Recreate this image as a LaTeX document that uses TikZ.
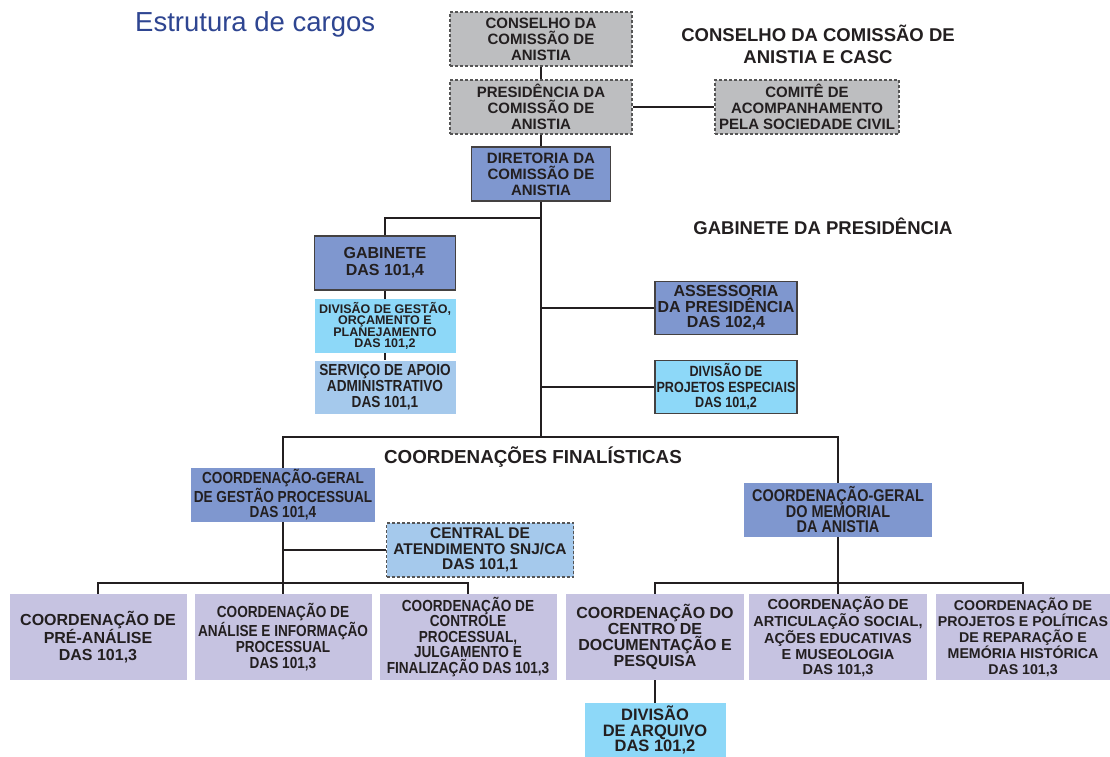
\documentclass[tikz,border=0pt]{standalone}
\usepackage{fontspec}
\setmainfont{Liberation Sans}
\newfontfamily\condfam[FakeStretch=0.85]{Liberation Sans}
\newcommand\fz[2]{\fontsize{#1}{#2}\selectfont\bfseries}
\newcommand\fzc[2]{\condfam\fontsize{#1}{#2}\selectfont\bfseries}
\definecolor{txt}{HTML}{231F20}
\definecolor{grayfill}{HTML}{BDBEC0}
\definecolor{bluefill}{HTML}{7F97CF}
\definecolor{cyanfill}{HTML}{8DD8F8}
\definecolor{lbfill}{HTML}{A5C9EC}
\definecolor{lavfill}{HTML}{C6C3E1}
\definecolor{titleblue}{HTML}{2E4591}
\definecolor{dashcol}{HTML}{555555}
\tikzset{
  bx/.style={inner sep=0pt, align=center, text=txt},
  dashbox/.style={draw=dashcol, line width=1.1pt, dash pattern=on 3pt off 2pt},
  solidbox/.style={draw=txt!85, line width=1.2pt},
  conn/.style={draw=txt, line width=2pt},
  lbl/.style={inner sep=0pt, align=center, text=txt}
}
\begin{document}
\begin{tikzpicture}[x=1pt,y=-1pt]
\fill[white] (0,0) rectangle (1110,756);
\useasboundingbox (0,0) rectangle (1110,756);

% title
\node[anchor=base west, inner sep=0pt, text=titleblue, font=\fontsize{27.5}{30}\selectfont] (title) at (135,31) {Estrutura de cargos};

% top boxes
\node[bx, fill=grayfill, dashbox, minimum width=182, minimum height=54, font=\fz{15}{16}] (cons) at (541,39) {CONSELHO DA\\COMISSÃO DE\\ANISTIA};
\node[bx, fill=grayfill, dashbox, minimum width=182, minimum height=54, font=\fz{15}{16}] (pres) at (541,107) {PRESIDÊNCIA DA\\COMISSÃO DE\\ANISTIA};
\node[bx, fill=grayfill, dashbox, minimum width=184, minimum height=54, font=\fz{15}{16}] (comite) at (807,107) {COMITÊ DE\\ACOMPANHAMENTO\\PELA SOCIEDADE CIVIL};
\node[lbl, font=\fz{18.5}{22}] (casc) at (818,44) {CONSELHO DA COMISSÃO DE\\ANISTIA E CASC};
\node[bx, fill=bluefill, solidbox, minimum width=139, minimum height=54, font=\fz{15}{16}] (dir) at (541,174) {DIRETORIA DA\\COMISSÃO DE\\ANISTIA};

\node[lbl, font=\fz{18.5}{20}] (gabpres) at (823,226) {GABINETE DA PRESIDÊNCIA};

% gabinete column
\node[bx, fill=bluefill, solidbox, minimum width=141, minimum height=54, font=\fz{16}{17}] (gab) at (385,263) {GABINETE\\DAS 101,4};
\node[bx, fill=cyanfill, minimum width=141, minimum height=54, font=\fz{12.5}{11.5}] (divg) at (385,326) {DIVISÃO DE GESTÃO,\\ORÇAMENTO E\\PLANEJAMENTO\\DAS 101,2};
\node[bx, fill=lbfill, minimum width=141, minimum height=53, font=\fzc{16}{16}] (serv) at (385,387) {SERVIÇO DE APOIO\\ADMINISTRATIVO\\DAS 101,1};

% right of trunk
\node[bx, fill=bluefill, solidbox, minimum width=142, minimum height=53, font=\fz{16}{15.5}] (assess) at (726,308) {ASSESSORIA\\DA PRESIDÊNCIA\\DAS 102,4};
\node[bx, fill=cyanfill, solidbox, minimum width=142, minimum height=53, font=\fzc{14.8}{15.5}] (divpe) at (726,387) {DIVISÃO DE\\PROJETOS ESPECIAIS\\DAS 101,2};

\node[lbl, font=\fz{18.8}{20}] (coordfin) at (533,457) {COORDENAÇÕES FINALÍSTICAS};

% coordenações gerais
\node[bx, fill=bluefill, minimum width=184, minimum height=54, font=\fzc{16}{15.5}] (cgg) at (283,495) {COORDENAÇÃO-GERAL\\DE GESTÃO PROCESSUAL\\DAS 101,4};
\node[bx, fill=lbfill, dashbox, minimum width=187, minimum height=54, font=\fz{15.5}{15.5}] (central) at (480,550) {CENTRAL DE\\ATENDIMENTO SNJ/CA\\DAS 101,1};
\node[bx, fill=bluefill, minimum width=188, minimum height=54, font=\fzc{17}{15.5}] (cgm) at (838,510) {COORDENAÇÃO-GERAL\\DO MEMORIAL\\DA ANISTIA};

% bottom row
\node[bx, fill=lavfill, minimum width=177, minimum height=86, font=\fz{16}{16.5}] (b1) at (98,637) {COORDENAÇÃO DE\\PRÉ-ANÁLISE\\DAS 101,3};
\node[bx, fill=lavfill, minimum width=177, minimum height=86, font=\fzc{16}{16}] (b2) at (283,637) {COORDENAÇÃO DE\\ANÁLISE E INFORMAÇÃO\\PROCESSUAL\\DAS 101,3};
\node[bx, fill=lavfill, minimum width=177, minimum height=86, font=\fzc{16}{15.5}] (b3) at (468,637) {COORDENAÇÃO DE\\CONTROLE\\PROCESSUAL,\\JULGAMENTO E\\FINALIZAÇÃO DAS 101,3};
\node[bx, fill=lavfill, minimum width=178, minimum height=86, font=\fz{16}{16}] (b4) at (655,637) {COORDENAÇÃO DO\\CENTRO DE\\DOCUMENTAÇÃO E\\PESQUISA};
\node[bx, fill=lavfill, minimum width=178, minimum height=86, font=\fz{14.5}{15.5}] (b5) at (838,637) {COORDENAÇÃO DE\\ARTICULAÇÃO SOCIAL,\\AÇÕES EDUCATIVAS\\E MUSEOLOGIA\\DAS 101,3};
\node[bx, fill=lavfill, minimum width=174, minimum height=86, font=\fz{14.2}{15.5}] (b6) at (1023,637) {COORDENAÇÃO DE\\PROJETOS E POLÍTICAS\\DE REPARAÇÃO E\\MEMÓRIA HISTÓRICA\\DAS 101,3};
\node[bx, fill=cyanfill, minimum width=141, minimum height=54, font=\fz{16.5}{15.5}] (arq) at (655,730) {DIVISÃO\\DE ARQUIVO\\DAS 101,2};

% junction coordinates
\coordinate (jg) at (541,218);
\coordinate (jf) at (541,437);
\coordinate (jl) at (283,583);
\coordinate (jr) at (838,583);

% connectors
\draw[conn] (cons) -- (pres);
\draw[conn] (pres) -- (comite);
\draw[conn] (pres) -- (dir);
\draw[conn] (dir) -- (jf);
\draw[conn] (jg) -| (gab);
\draw[conn] (gab) -- (divg);
\draw[conn] (divg) -- (serv);
\draw[conn] (dir |- assess) -- (assess);
\draw[conn] (dir |- divpe) -- (divpe);
\draw[conn] (cgg) |- (jf) -| (cgm);
\draw[conn] (cgg |- central) -- (central);
\draw[conn] (cgg) -- (jl);
\draw[conn] (b1) |- (jl) -| (b3);
\draw[conn] (jl) -- (b2);
\draw[conn] (cgm) -- (jr);
\draw[conn] (b4) |- (jr) -| (b6);
\draw[conn] (jr) -- (b5);
\draw[conn] (b4) -- (arq);
\end{tikzpicture}
\end{document}
